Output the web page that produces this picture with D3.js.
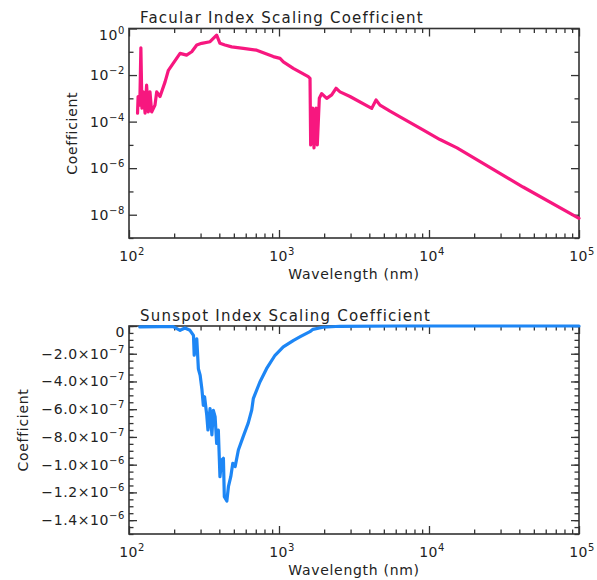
<!DOCTYPE html>
<html><head><meta charset="utf-8">
<script src="https://cdn.jsdelivr.net/npm/d3@7"></script>
<style>
body{margin:0;background:#fff}
text{font-family:"DejaVu Sans",sans-serif;fill:#222}
</style>
</head><body>
<svg id="chart" width="597" height="580"></svg>
<script>
// ---------- DATA ----------
const facularWavelength = [114,115,118,120,122,124.5,128,131,134.5,138,141.6,149,153,161,174,183,197,219,242,262,283,305,347,384,404,436,484,578,710,916,1016,1069,1245,1567,1610,1626,1678,1711,1765,1800,1857,1926,2080,2245,2399,2552,2974,4150,4436,4713,5495,6412,9120,11830,15370,42360,100000];
const facularCoefficient = [2.3e-4,1.2e-3,5.1e-4,0.148,3.8e-4,1.9e-3,2.3e-4,3.7e-3,2.6e-4,1.9e-3,2.6e-4,5.1e-4,1.9e-3,1.2e-3,5.1e-3,1.6e-2,3.2e-2,8.5e-2,7.2e-2,0.10,0.195,0.23,0.27,0.52,0.23,0.195,0.162,0.141,0.117,0.062,0.052,0.037,0.0195,8.5e-3,7.2e-3,1.0e-5,3.8e-4,7.4e-6,3.8e-4,1.0e-5,1.0e-3,1.6e-3,1.0e-3,1.4e-3,2.7e-3,1.9e-3,1.2e-3,3.7e-4,8.5e-4,5.1e-4,2.8e-4,1.6e-4,4.4e-5,1.7e-5,7.4e-6,1.55e-7,7.0e-9];

const sunspotWavelength = [118,161,197,219,236,255,269,272,283,290,298,306,313,319,330,336,347,357,365,375,384,394,404,415,426,432,449,460,477,492,510,536,577,624,658,674,746,826,941,1068,1251,1386,1608,1684,1963,2550,6400,100000];
const sunspotCoefficient = [-0.07e-7,-0.04e-7,-0.04e-7,-0.31e-7,-0.14e-7,-0.31e-7,-0.67e-7,-2.11e-7,-0.92e-7,-3.08e-7,-3.55e-7,-4.52e-7,-5.72e-7,-5.10e-7,-6.44e-7,-7.50e-7,-5.96e-7,-7.86e-7,-6.08e-7,-6.54e-7,-8.46e-7,-7.50e-7,-10.87e-7,-9.66e-7,-9.54e-7,-12.31e-7,-12.62e-7,-11.59e-7,-10.87e-7,-9.90e-7,-10.14e-7,-8.94e-7,-7.98e-7,-6.99e-7,-6.06e-7,-5.24e-7,-4.04e-7,-3.08e-7,-2.11e-7,-1.51e-7,-1.03e-7,-0.77e-7,-0.41e-7,-0.24e-7,-0.09e-7,-0.02e-7,0,0];

const xMajorTicks = [1e2,1e3,1e4,1e5];
const xMinorTicks = [200,300,400,500,600,700,800,900,2000,3000,4000,5000,6000,7000,8000,9000,20000,30000,40000,50000,60000,70000,80000,90000];
const facularMajorTicks = [1,1e-2,1e-4,1e-6,1e-8];
const facularMinorTicks = [1e-1,1e-3,1e-5,1e-7,1e-9];
const sunspotMajorTicks = [0,-2e-7,-4e-7,-6e-7,-8e-7,-1.0e-6,-1.2e-6,-1.4e-6];
const sunspotMinorTicks = d3.range(0,31).map(i => -i*5e-8);

const titles = ["Facular Index Scaling Coefficient","Sunspot Index Scaling Coefficient"];
const xTitle = "Wavelength (nm)";
const yTitle = "Coefficient";

// ---------- LAYOUT ----------
const svg = d3.select("#chart");
const L = 129, R = 579;
const P1 = {top:28.5, bottom:238};
const P2 = {top:326, bottom:534};
const axisColor = "#333";
const MAJ = 8, MIN = 4.5;

function supLabel(sel, base, exp){
  sel.text(null);
  sel.append("tspan").text(base);
  sel.append("tspan").attr("dy",-6).attr("font-size",10).text(exp);
}
function minus(s){ return String(s).replace("-","\u2212"); }

function styleAxis(g){
  g.select(".domain").remove();
  g.selectAll(".tick line").attr("stroke",axisColor).attr("stroke-width",1.3);
}

function drawPanel(P, x, y, yMajor, yMinor, yLabelFn, title, lineData, color, yTitleX, topOffset){
  const g = svg.append("g");
  g.append("g").attr("transform",`translate(0,${P.bottom})`)
    .call(d3.axisBottom(x).tickValues(xMajorTicks).tickSize(-MAJ).tickFormat(""))
    .call(styleAxis);
  g.append("g").attr("transform",`translate(0,${P.bottom})`)
    .call(d3.axisBottom(x).tickValues(xMinorTicks).tickSize(-MIN).tickFormat(""))
    .call(styleAxis);
  g.append("g").attr("transform",`translate(0,${P.top})`)
    .call(d3.axisTop(x).tickValues(xMajorTicks).tickSize(-MAJ).tickFormat(""))
    .call(styleAxis);
  g.append("g").attr("transform",`translate(0,${P.top})`)
    .call(d3.axisTop(x).tickValues(xMinorTicks).tickSize(-MIN).tickFormat(""))
    .call(styleAxis);
  [[L,d3.axisLeft],[R,d3.axisRight]].forEach(([px,ax])=>{
    g.append("g").attr("transform",`translate(${px},0)`)
      .call(ax(y).tickValues(yMajor).tickSize(-MAJ).tickFormat(""))
      .call(styleAxis);
    g.append("g").attr("transform",`translate(${px},0)`)
      .call(ax(y).tickValues(yMinor).tickSize(-MIN).tickFormat(""))
      .call(styleAxis);
  });
  xMajorTicks.forEach(v=>{
    const t = g.append("text").attr("x",x(v)+3).attr("y",P.bottom+22.5)
      .attr("text-anchor","middle").attr("font-size",14).attr("letter-spacing",0.5);
    supLabel(t,"10",String(Math.round(Math.log10(v))));
  });
  yMajor.forEach((v,i)=>{
    const t = g.append("text").attr("x",L-4).attr("y",y(v)+5 + (i===0?topOffset:0))
      .attr("text-anchor","end").attr("font-size",14).attr("letter-spacing",0.6);
    yLabelFn(t,v);
  });
  g.append("rect").attr("x",L).attr("y",P.top).attr("width",R-L).attr("height",P.bottom-P.top)
    .attr("fill","none").attr("stroke",axisColor).attr("stroke-width",1.6);
  g.append("text").attr("x",140).attr("y",P.top-5.5).attr("font-size",15).attr("letter-spacing",1.2).text(title);
  g.append("text").attr("x",(L+R)/2).attr("y",P.bottom+41).attr("text-anchor","middle")
    .attr("font-size",14).attr("letter-spacing",0.7).text(xTitle);
  g.append("text").attr("transform",`translate(${yTitleX},${(P.top+P.bottom)/2}) rotate(-90)`)
    .attr("text-anchor","middle").attr("font-size",14).attr("letter-spacing",0.7).text(yTitle);
  const line = d3.line().x(d=>x(d[0])).y(d=>y(d[1]));
  g.append("path").datum(lineData).attr("d",line).attr("fill","none")
    .attr("stroke",color).attr("stroke-width",3.2).attr("stroke-linejoin","round").attr("stroke-linecap","round");
}

const x1 = d3.scaleLog().domain([1e2,1e5]).range([L,R]);
const y1 = d3.scaleLog().domain([1e-9,1]).range([P1.bottom,P1.top]);
drawPanel(P1, x1, y1, facularMajorTicks, facularMinorTicks,
  (t,v)=>supLabel(t,"10",minus(Math.round(Math.log10(v)))),
  titles[0], facularWavelength.map((w,i)=>[w,facularCoefficient[i]]), "#f7177f", 77, 6);

const x2 = d3.scaleLog().domain([1e2,1e5]).range([L,R]);
const y2 = d3.scaleLinear().domain([-1.5e-6,0]).range([P2.bottom,P2.top]);
drawPanel(P2, x2, y2, sunspotMajorTicks, sunspotMinorTicks,
  (t,v)=>{
    if (v===0){ t.text("0"); return; }
    const e = Math.floor(Math.log10(Math.abs(v))+1e-9);
    const m = v/Math.pow(10,e);
    supLabel(t, minus(m.toFixed(1))+"\u00d710", minus(e));
  },
  titles[1], sunspotWavelength.map((w,i)=>[w,sunspotCoefficient[i]]), "#1d86f5", 28, 5.5);
</script>
</body></html>
